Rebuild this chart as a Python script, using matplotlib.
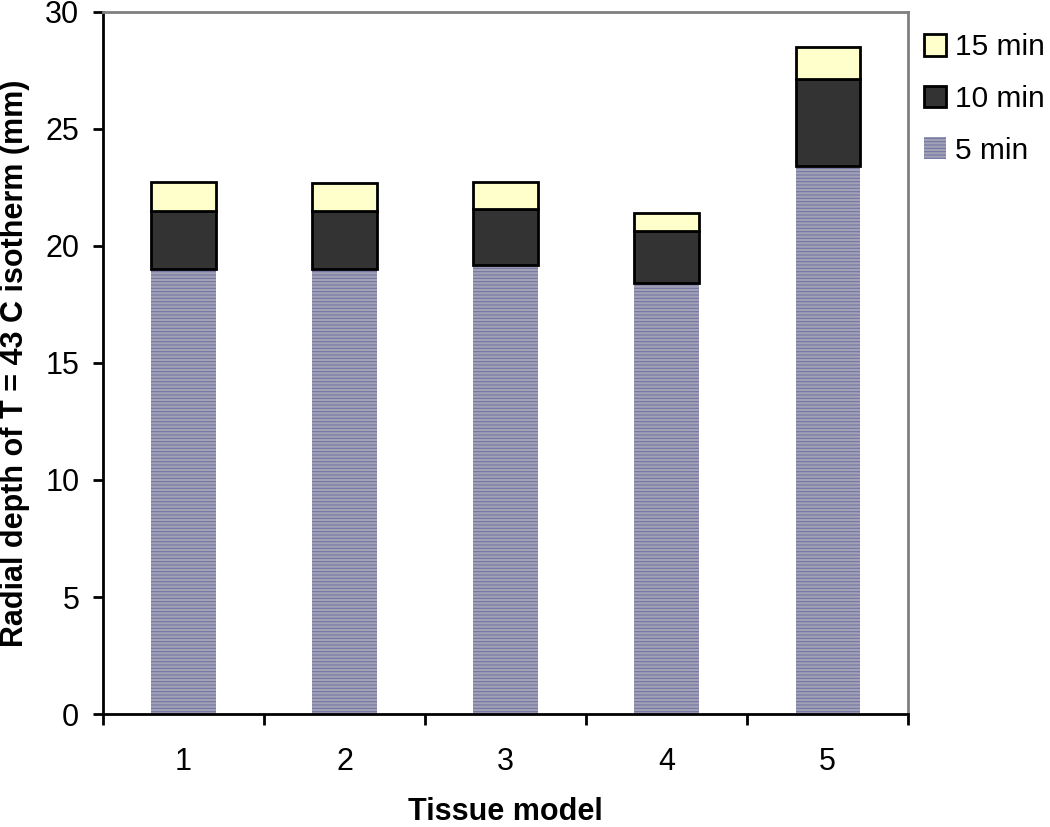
import numpy as np
import matplotlib
matplotlib.use("Agg")
import matplotlib.pyplot as plt

plt.rcParams['font.family'] = ['Liberation Sans', 'DejaVu Sans']
plt.rcParams['hatch.linewidth'] = 0.8

models = ["1", "2", "3", "4", "5"]
depth_5min  = [19.0, 19.0, 19.2, 18.4, 23.4]
depth_10min = [21.5, 21.5, 21.6, 20.65, 27.15]
depth_15min = [22.75, 22.7, 22.75, 21.4, 28.5]

x = np.arange(len(models))
seg_10 = np.array(depth_10min) - np.array(depth_5min)
seg_15 = np.array(depth_15min) - np.array(depth_10min)

fig = plt.figure(figsize=(10.5, 8.27), dpi=100)
ax = fig.add_axes([0.098, 0.1366, 0.767, 0.849])

w = 0.4
b5 = ax.bar(x, depth_5min, w, color="#a2a2b6", edgecolor="#7474a4",
            linewidth=0, hatch="-----", label="5 min")
b10 = ax.bar(x, seg_10, w, bottom=depth_5min, color="#333333",
             edgecolor="black", linewidth=2, label="10 min")
b15 = ax.bar(x, seg_15, w, bottom=depth_10min, color="#ffffcc",
             edgecolor="black", linewidth=2, label="15 min")

ax.set_xlim(-0.5, len(models) - 0.5)
ax.set_ylim(0, 30)
ax.set_yticks(range(0, 31, 5))
ax.set_xticks(x)
ax.set_xticklabels(models)
ax.set_xticks(np.arange(-0.5, len(models), 1), minor=True)
ax.tick_params(axis="x", which="major", length=0, pad=24, labelsize=22)
ax.tick_params(axis="x", which="minor", length=8, width=2, direction="out")
ax.tick_params(axis="y", length=7, width=2, direction="out", pad=10, labelsize=22)

for s in ["left", "bottom"]:
    ax.spines[s].set_linewidth(2)
    ax.spines[s].set_color("black")
for s in ["top", "right"]:
    ax.spines[s].set_linewidth(2)
    ax.spines[s].set_color("#808080")

ax.set_xlabel("Tissue model", fontsize=22, fontweight="bold", labelpad=14)
ax.set_ylabel("Radial depth of T = 43 C isotherm (mm)", fontsize=22,
              fontweight="bold", labelpad=11)

# legend sits in the strip right of the plot area
handles = [b15, b10, b5]
fig.legend(handles, ["15 min", "10 min", "5 min"], loc="upper left",
           bbox_to_anchor=(924 / 1050, 1 - 33 / 827), frameon=False, fontsize=21.5,
           handlelength=0.75, handleheight=0.75, handletextpad=0.3,
           labelspacing=0.8, borderpad=0, borderaxespad=0)

fig.savefig("out.png", dpi=100)
